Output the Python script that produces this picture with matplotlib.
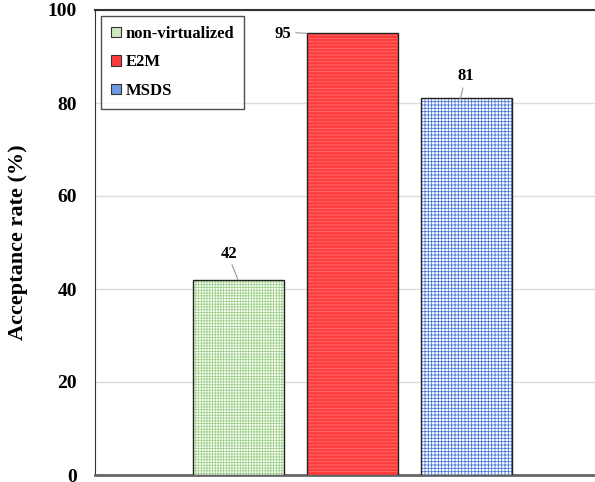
import matplotlib.pyplot as plt
import matplotlib as mpl
from matplotlib.patches import Patch

categories = ["non-virtualized", "E2M", "MSDS"]
values = [42, 95, 81]
yticks = [0, 20, 40, 60, 80, 100]

mpl.rcParams['font.family'] = ['Liberation Serif', 'DejaVu Serif']
mpl.rcParams['font.weight'] = 'bold'
mpl.rcParams['hatch.linewidth'] = 0.6

fig = plt.figure(figsize=(5.95, 4.82), dpi=100)
ax = fig.add_axes([95 / 595, 1 - 475 / 482, 1 - 95 / 595, 465 / 482])

faces = ["#ffffff", "#ff3c3c", "#ffffff"]
hatch_cols = ["#9fd28a", "#ff7070", "#4a78d8"]
hatches = ["++++++", "-----", "+++++"]
legend_faces = ["#cfe8c0", "#ff3c3c", "#6f98e6"]

x = [0, 1, 2]
for xi, v, fc, hc, h in zip(x, values, faces, hatch_cols, hatches):
    ax.bar(xi, v, width=0.8, facecolor=fc, hatch=h, edgecolor=hc,
           linewidth=0, zorder=3)
    # dark outline drawn separately so the hatch keeps its colour
    ax.bar(xi, v, width=0.8, facecolor="none", edgecolor="#222222",
           linewidth=1.0, zorder=4)

ax.set_xlim(-1.257, 3.13)
ax.set_ylim(0, 100)
ax.set_yticks(yticks)
ax.set_yticklabels([str(t) for t in yticks], fontsize=14, fontweight='bold')
ax.set_xticks([])
ax.tick_params(axis='y', length=0, pad=13)
ax.grid(axis='y', color='#dddddd', linewidth=1, zorder=0)
ax.set_axisbelow(True)

ax.spines['right'].set_visible(False)
ax.spines['top'].set_color('#333333')
ax.spines['top'].set_linewidth(1.5)
ax.spines['left'].set_color('#333333')
ax.spines['bottom'].set_color('#666666')
ax.spines['bottom'].set_linewidth(2)

ax.set_ylabel("Acceptance rate (%)", fontsize=16, fontweight='bold', labelpad=14)

# value labels with leader lines
label_pos = [(-0.081, 47.5), (0.392, 94.8), (2.0, 85.8)]
line_from = [(-0.055, 45.2), (0.506, 95.1), (1.97, 83.2)]
line_to = [(-0.003, 42), (0.60, 95), (1.95, 81)]
for v, (lx, ly), (fx, fy), (tx, ty) in zip(values, label_pos, line_from, line_to):
    ax.plot([fx, tx], [fy, ty], color='#999999', linewidth=0.8, zorder=5)
    ax.text(lx, ly, str(v), ha='center', va='center', fontsize=12,
            fontweight='bold', zorder=6)

handles = [Patch(facecolor=fc, edgecolor='#333333', linewidth=0.8, label=lab)
           for fc, lab in zip(legend_faces, categories)]
leg = ax.legend(handles=handles, loc='upper left', bbox_to_anchor=(0.0, 1.0),
                prop={'weight': 'bold', 'size': 12}, frameon=True, fancybox=False,
                edgecolor='#222222', handlelength=0.6, handleheight=0.6,
                handletextpad=0.3, labelspacing=0.75, borderpad=0.6,
                borderaxespad=0.35)
leg.get_frame().set_linewidth(1.0)

fig.savefig("out.png", dpi=100)
